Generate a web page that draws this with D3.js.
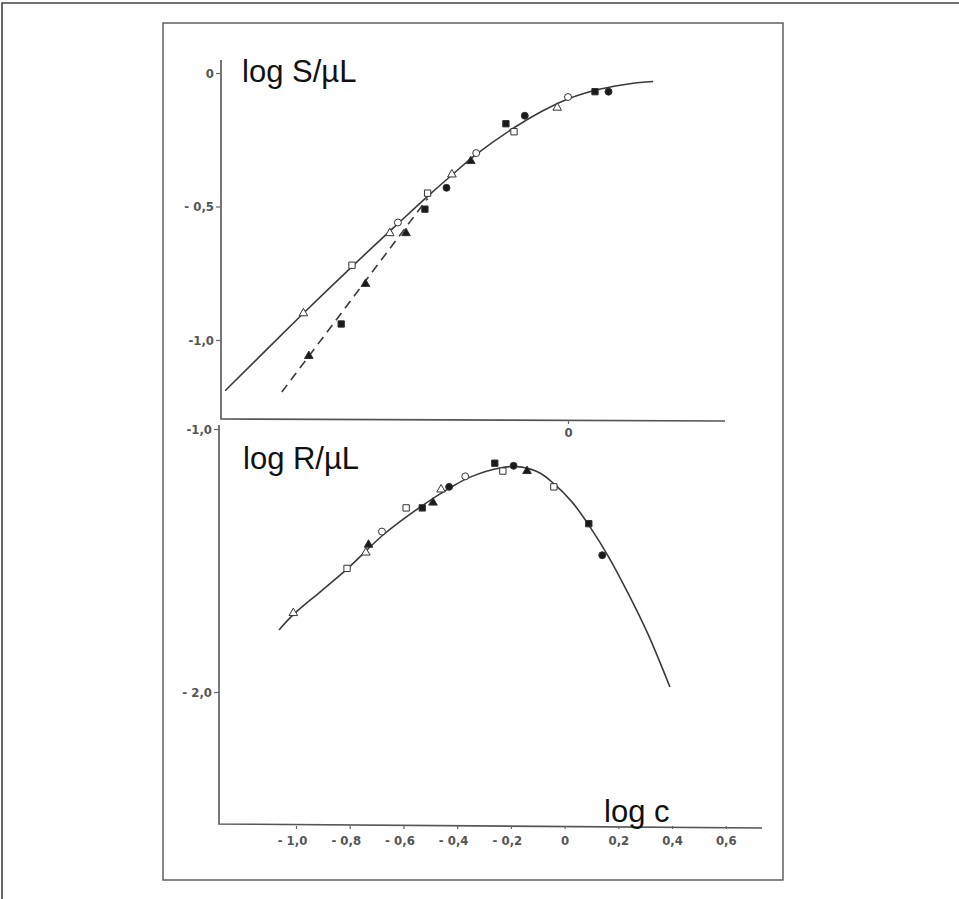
<!DOCTYPE html>
<html><head><meta charset="utf-8">
<script src="https://cdn.jsdelivr.net/npm/d3@7"></script>
<style>
html,body{margin:0;padding:0;background:#fff;}
svg{display:block;}
.tick text{font-family:"Liberation Sans Narrow","DejaVu Sans Condensed","Liberation Sans",Arial,sans-serif;font-size:13px;font-weight:bold;fill:#555;}
.tick line{stroke:#666;stroke-width:1.2;}
</style>
</head><body>
<svg id="chart" width="959" height="899"></svg>
<script>
// ---------- data ----------
// Top panel: log S/µL vs log c
const topOpenTriangle  = [[-0.98,-0.90],[-0.66,-0.60],[-0.43,-0.38],[-0.04,-0.13]];
const topFilledTriangle= [[-0.96,-1.06],[-0.75,-0.79],[-0.60,-0.60],[-0.36,-0.33]];
const topOpenSquare    = [[-0.80,-0.72],[-0.52,-0.45],[-0.20,-0.22]];
const topFilledSquare  = [[-0.84,-0.94],[-0.53,-0.51],[-0.23,-0.19],[0.10,-0.07]];
const topOpenCircle    = [[-0.63,-0.56],[-0.34,-0.30],[0.00,-0.09]];
const topFilledCircle  = [[-0.45,-0.43],[-0.16,-0.16],[0.15,-0.07]];
const topSolidCurve = [[-1.27,-1.19],[-0.98,-0.90],[-0.80,-0.725],[-0.62,-0.555],[-0.52,-0.462],
  [-0.43,-0.382],[-0.34,-0.305],[-0.20,-0.205],[-0.10,-0.145],[0.00,-0.097],[0.12,-0.060],
  [0.23,-0.040],[0.315,-0.032]];
const topDashedCurve = [[-1.06,-1.195],[-0.52,-0.47]];

// Bottom panel: log R/µL vs log c
const botOpenTriangle  = [[-1.01,-1.70],[-0.74,-1.47],[-0.46,-1.23]];
const botFilledTriangle= [[-0.73,-1.44],[-0.49,-1.28],[-0.14,-1.16]];
const botOpenSquare    = [[-0.81,-1.53],[-0.59,-1.30],[-0.23,-1.16],[-0.04,-1.22]];
const botFilledSquare  = [[-0.53,-1.30],[-0.26,-1.13],[0.09,-1.36]];
const botOpenCircle    = [[-0.68,-1.39],[-0.37,-1.18]];
const botFilledCircle  = [[-0.43,-1.22],[-0.19,-1.14],[0.14,-1.48]];
const botCurve = [[-1.063,-1.764],[-1.011,-1.707],[-0.911,-1.620],[-0.806,-1.529],[-0.676,-1.403],
  [-0.538,-1.297],[-0.427,-1.224],[-0.352,-1.183],[-0.241,-1.148],[-0.166,-1.144],[-0.092,-1.167],
  [-0.039,-1.209],[0.028,-1.278],[0.095,-1.373],[0.162,-1.483],[0.236,-1.624],[0.310,-1.779],[0.392,-1.981]];

// tick labels
const topYTicks = [0, -0.5, -1.0];
const topYLabels = ["0", "- 0,5", "-1,0"];
const topXTicks = [0];
const topXLabels = ["0"];
const botYTicks = [-1.0, -2.0];
const botYLabels = ["-1,0", "- 2,0"];
const botXTicks = [-1.0,-0.8,-0.6,-0.4,-0.2,0,0.2,0.4,0.6];
const botXLabels = ["- 1,0","- 0,8","- 0,6","- 0,4","- 0,2","0","0,2","0,4","0,6"];

// ---------- drawing ----------
const svg = d3.select("#chart");
const ink = "#3a3a3a";

// frames
svg.append("path").attr("d","M2,899 L2,3 L959,3").attr("fill","none").attr("stroke","#444").attr("stroke-width",1.6);
svg.append("rect").attr("x",163).attr("y",23).attr("width",620).attr("height",857)
  .attr("fill","none").attr("stroke","#555").attr("stroke-width",1.4);

// scales
const xTop = d3.scaleLinear().domain([-1,0]).range([298,568]);
const yTop = d3.scaleLinear().domain([0,-1]).range([73,340]);
const xBot = d3.scaleLinear().domain([-1,0.6]).range([296,725.8]);
const yBot = d3.scaleLinear().domain([-1,-2]).range([429,692]);

// axes lines
const axisStroke = "#555";
svg.append("path").attr("d","M221,60 L221,419 L725,421").attr("fill","none").attr("stroke",axisStroke).attr("stroke-width",1.6);
svg.append("path").attr("d","M219,425 L219,824 L762,828").attr("fill","none").attr("stroke",axisStroke).attr("stroke-width",1.6);

function fmt(ticks, labels){ return d => labels[ticks.indexOf(d)]; }

const gTY = svg.append("g").attr("transform","translate(221,0)")
  .call(d3.axisLeft(yTop).tickValues(topYTicks).tickFormat(fmt(topYTicks,topYLabels)).tickSize(5).tickPadding(2));
const gTX = svg.append("g").attr("transform","translate(0,420)")
  .call(d3.axisBottom(xTop).tickValues(topXTicks).tickFormat(fmt(topXTicks,topXLabels)).tickSize(4).tickPadding(4));
const gBY = svg.append("g").attr("transform","translate(219,0)")
  .call(d3.axisLeft(yBot).tickValues(botYTicks).tickFormat(fmt(botYTicks,botYLabels)).tickSize(5).tickPadding(2));
const gBX = svg.append("g").attr("transform","translate(0,826)")
  .call(d3.axisBottom(xBot).tickValues(botXTicks).tickFormat(fmt(botXTicks,botXLabels)).tickSize(3).tickPadding(7));
[gTY,gTX,gBY,gBX].forEach(g=>g.select(".domain").remove());
gBX.selectAll(".tick text").attr("dx", d => d < 0 ? -4 : 0);

// curves
const lineTop = d3.line().x(d=>xTop(d[0])).y(d=>yTop(d[1])).curve(d3.curveCatmullRom);
const lineBot = d3.line().x(d=>xBot(d[0])).y(d=>yBot(d[1])).curve(d3.curveCatmullRom);
svg.append("path").attr("d",lineTop(topSolidCurve)).attr("fill","none").attr("stroke",ink).attr("stroke-width",1.6);
svg.append("path").attr("d",lineTop(topDashedCurve)).attr("fill","none").attr("stroke",ink).attr("stroke-width",1.6).attr("stroke-dasharray","9,6");
svg.append("path").attr("d",lineBot(botCurve)).attr("fill","none").attr("stroke",ink).attr("stroke-width",1.6);

// markers
function drawMarkers(data, xs, ys, type, filled){
  const size = type===d3.symbolSquare ? 40 : (type===d3.symbolTriangle ? 32 : 38);
  svg.append("g").selectAll("path").data(data).join("path")
    .attr("transform", d => `translate(${xs(d[0])},${ys(d[1])})`)
    .attr("d", d3.symbol().type(type).size(size))
    .attr("fill", filled ? "#1a1a1a" : "#fff")
    .attr("stroke", "#333").attr("stroke-width", 1);
}
drawMarkers(topOpenTriangle, xTop, yTop, d3.symbolTriangle, false);
drawMarkers(topFilledTriangle, xTop, yTop, d3.symbolTriangle, true);
drawMarkers(topOpenSquare, xTop, yTop, d3.symbolSquare, false);
drawMarkers(topFilledSquare, xTop, yTop, d3.symbolSquare, true);
drawMarkers(topOpenCircle, xTop, yTop, d3.symbolCircle, false);
drawMarkers(topFilledCircle, xTop, yTop, d3.symbolCircle, true);
drawMarkers(botOpenTriangle, xBot, yBot, d3.symbolTriangle, false);
drawMarkers(botFilledTriangle, xBot, yBot, d3.symbolTriangle, true);
drawMarkers(botOpenSquare, xBot, yBot, d3.symbolSquare, false);
drawMarkers(botFilledSquare, xBot, yBot, d3.symbolSquare, true);
drawMarkers(botOpenCircle, xBot, yBot, d3.symbolCircle, false);
drawMarkers(botFilledCircle, xBot, yBot, d3.symbolCircle, true);

// axis titles
const titleFont = '"Liberation Sans", Arial, Helvetica, sans-serif';
svg.append("text").attr("x",242).attr("y",82).text("log S/µL")
  .attr("font-family",titleFont).attr("font-size",31).attr("fill","#111");
svg.append("text").attr("x",243).attr("y",469).text("log R/µL")
  .attr("font-family",titleFont).attr("font-size",31).attr("fill","#111");
svg.append("text").attr("x",604).attr("y",822).text("log c")
  .attr("font-family",titleFont).attr("font-size",31).attr("fill","#111");
</script>
</body></html>
